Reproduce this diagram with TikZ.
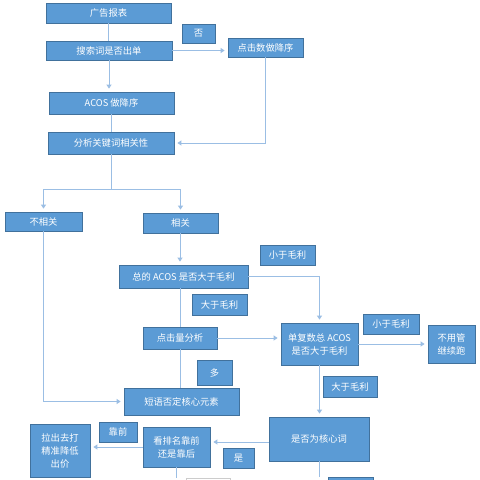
\documentclass[tikz,border=0pt]{standalone}
\usepackage{fontspec}
\newfontfamily\cjk{Noto Sans CJK SC}
\usetikzlibrary{arrows.meta}
\definecolor{boxfill}{RGB}{91,155,213}
\definecolor{boxline}{RGB}{65,113,156}
\definecolor{conn}{RGB}{155,190,228}
\tikzset{
  box/.style={draw=boxline, fill=boxfill, text=white, inner sep=0pt, align=center,
    font=\cjk\fontsize{9.3}{13}\selectfont, line width=0.8pt},
  ghost/.style={draw=black!20, fill=white, inner sep=0pt, line width=0.8pt},
  link/.style={draw=conn, line width=0.9pt},
  arr/.style={link, -{Triangle[width=5pt,length=4pt]}, shorten >=3pt},
}
\newcommand{\bx}[6]{\node[box, minimum width=#3pt, minimum height=#4pt] (#1) at (#2) {#5#6};}
\begin{document}
\begin{tikzpicture}[x=1pt,y=-1pt]
\useasboundingbox (0,0) rectangle (480,480);
\clip (0,0) rectangle (480,480);
\fill[white] (0,0) rectangle (480,480);
\bx{ad}{108.5,13}{125}{20}{广告报表}{}
\bx{no}{198.5,33.5}{33}{19}{否}{}
\bx{search}{109,50.5}{126}{19}{搜索词是否出单}{}
\bx{click}{265.5,47.5}{75}{19}{点击数做降序}{}
\bx{acos}{111.5,103}{125}{22}{ACOS 做降序}{}
\bx{anal}{111,143}{126}{22}{分析关键词相关性}{}
\bx{unrel}{43.5,221.5}{77}{19}{不相关}{}
\bx{rel}{180.5,223}{75}{20}{相关}{}
\bx{total}{183.5,276.5}{129}{23}{总的 ACOS 是否大于毛利}{}
\bx{lta}{287.5,255}{55}{20}{小于毛利}{}
\bx{gta}{219.5,304.5}{55}{21}{大于毛利}{}
\bx{clickvol}{180,338}{74}{22}{点击量分析}{}
\bx{single}{319.5,344}{77}{42}{单复数总 ACOS\\是否大于毛利}{}
\bx{ltb}{391,324}{56}{20}{小于毛利}{}
\bx{nomgmt}{451.5,344}{47}{38}{不用管\\继续跑}{}
\bx{gtb}{350,386.5}{54}{21}{大于毛利}{}
\bx{duo}{214.5,372.5}{35}{25}{多}{}
\bx{neg}{181.5,401.5}{115}{27}{短语否定核心元素}{}
\bx{core}{319,439}{100}{44}{是否为核心词}{}
\bx{pull}{60,450.5}{60}{53}{拉出去打\\精准降低\\出价}{}
\bx{front}{118,432}{38}{20}{靠前}{}
\bx{rank}{176.5,447}{67}{40}{看排名靠前\\还是靠后}{}
\bx{yes}{238.5,458}{31}{20}{是}{}
\bx{nextb}{350.5,492}{45}{30}{}{}
\node[ghost, minimum width=44pt, minimum height=30pt] (nexta) at (208,493) {};
\coordinate (ctop) at (112,189);
% connectors
\draw[link] (ad.south) -- (ad.south |- search.north);
\draw[arr] (search.south) -- (search.south |- acos.north);
\draw[arr] (search.east) -- (search.east -| click.west);
\draw[link] (acos.south) -- (acos.south |- anal.north);
\draw[arr] (click.south) |- (anal.east);
\draw[link] (anal.south) -- (anal.south |- ctop);
\draw[arr] (ctop) -| (unrel.north);
\draw[arr] (ctop) -| (rel.north);
\draw[arr] (clickvol.north |- rel.south) -- (clickvol.north |- total.north);
\draw[arr] (total.east) -| (single.north);
\draw[link] (clickvol.north |- total.south) -- (clickvol.north);
\draw[link] (clickvol.south) -- (clickvol.south |- neg.north);
\draw[arr] (unrel.south) |- (neg.west);
\draw[arr] (clickvol.east) -- (clickvol.east -| single.west);
\draw[arr] (single.east) -- (single.east -| nomgmt.west);
\draw[arr] (single.south) -- (single.south |- core.north);
\draw[arr] ([yshift=-3pt]core.west) -- ([yshift=-3pt]core.west -| rank.east);
\draw[arr] (rank.west) -- (rank.west -| pull.east);
\draw[link] (rank.south) -- (nexta.north -| rank.south);
\draw[link] (core.south) -- (nextb.north -| core.south);
\end{tikzpicture}
\end{document}
